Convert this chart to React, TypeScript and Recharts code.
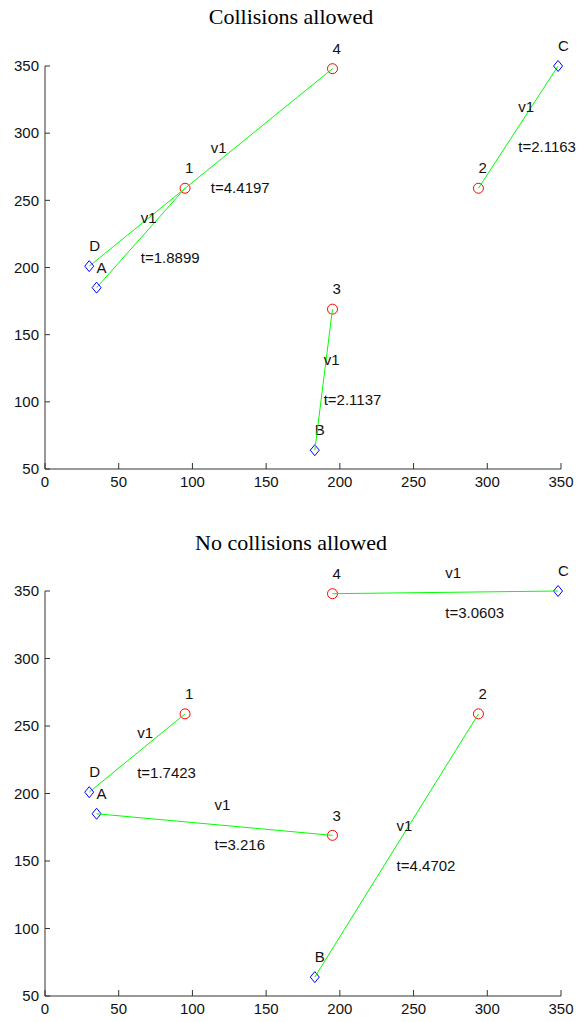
import React from 'react'
import { ScatterChart, Scatter, XAxis, YAxis } from 'recharts'

type Pt = { name: string; x: number; y: number }
type Pair = [string, string, number]

// task positions (red circles)
const targets: Pt[] = [
  { name: '1', x: 95, y: 259 },
  { name: '2', x: 294, y: 259 },
  { name: '3', x: 195, y: 169 },
  { name: '4', x: 195, y: 348 },
]

// agent positions (blue diamonds)
const agents: Pt[] = [
  { name: 'A', x: 35, y: 185 },
  { name: 'B', x: 183, y: 64 },
  { name: 'C', x: 348, y: 350 },
  { name: 'D', x: 30, y: 201 },
]

// agent -> task, travel time
const allowedPairs: Pair[] = [
  ['D', '4', 4.4197],
  ['A', '1', 1.8899],
  ['B', '3', 2.1137],
  ['C', '2', 2.1163],
]

const noCollisionPairs: Pair[] = [
  ['C', '4', 3.0603],
  ['D', '1', 1.7423],
  ['A', '3', 3.216],
  ['B', '2', 4.4702],
]

const xTicks = [0, 50, 100, 150, 200, 250, 300, 350]
const yTicks = [50, 100, 150, 200, 250, 300, 350]

const GREEN = '#00ff00'
const RED = '#ff0000'
const BLUE = '#0000ff'
const AXIS = '#333'
const FONT = '"Liberation Sans", Arial, sans-serif'

const find = (list: Pt[], n: string) => list.find((p) => p.name === n)!

function XTick(props: any) {
  const { x, y, payload } = props
  return (
    <g>
      <line x1={x} x2={x} y1={y - 7} y2={y - 13} stroke={AXIS} />
      <text x={x} y={y} dy="0.71em" textAnchor="middle" fontSize={15} fill="#111" fontFamily={FONT}>
        {payload.value}
      </text>
    </g>
  )
}

function YTick(props: any) {
  const { x, y, payload } = props
  return (
    <g>
      <line x1={x + 6} x2={x + 11} y1={y} y2={y} stroke={AXIS} />
      <text x={x} y={y} dy="0.35em" textAnchor="end" fontSize={15} fill="#111" fontFamily={FONT}>
        {payload.value}
      </text>
    </g>
  )
}

function Circle(props: any) {
  const { cx, cy, payload } = props
  return (
    <g>
      <circle cx={cx} cy={cy} r={5} fill="none" stroke={RED} />
      <text x={cx} y={cy - 20} dy="0.35em" fontSize={15} fontFamily={FONT} fill="#111">
        {payload.name}
      </text>
    </g>
  )
}

function Diamond(props: any) {
  const { cx, cy, payload } = props
  return (
    <g>
      <polygon
        points={`${cx},${cy - 5.5} ${cx + 4.5},${cy} ${cx},${cy + 5.5} ${cx - 4.5},${cy}`}
        fill="none"
        stroke={BLUE}
      />
      <text x={cx} y={cy - 20} dy="0.35em" fontSize={15} fontFamily={FONT} fill="#111">
        {payload.name}
      </text>
    </g>
  )
}

function MidLabel(props: any) {
  const { cx, cy, payload } = props
  return (
    <g fontSize={15} fontFamily={FONT} fill="#111">
      <text x={cx} y={cy - 20} dy="0.35em">v1</text>
      <text x={cx} y={cy + 20} dy="0.35em">t={payload.t}</text>
    </g>
  )
}

function Plot({ pairs, top, height, marginTop, xAxisHeight, marginBottom }: any) {
  const segs = pairs.map(([a, t]: Pair) => [find(agents, a), find(targets, t)])
  const mids = pairs.map(([a, t, time]: Pair) => {
    const p = find(agents, a)
    const q = find(targets, t)
    return { x: (p.x + q.x) / 2, y: (p.y + q.y) / 2, t: time }
  })
  return (
    <div style={{ position: 'absolute', left: 0, top }}>
      <ScatterChart
        width={578}
        height={height}
        margin={{ top: marginTop, right: 17, bottom: marginBottom, left: 0 }}
      >
        <XAxis
          type="number"
          dataKey="x"
          domain={[0, 350]}
          ticks={xTicks}
          interval={0}
          height={xAxisHeight}
          tickSize={0}
          tickMargin={7}
          tick={<XTick />}
          axisLine={{ stroke: AXIS }}
        />
        <YAxis
          type="number"
          dataKey="y"
          domain={[50, 350]}
          ticks={yTicks}
          interval={0}
          width={45}
          tickSize={0}
          tickMargin={6}
          tick={<YTick />}
          axisLine={{ stroke: AXIS }}
        />
        <Scatter data={targets} shape={<Circle />} isAnimationActive={false} />
        <Scatter data={agents} shape={<Diamond />} isAnimationActive={false} />
        {segs.map((d: Pt[], i: number) => (
          <Scatter
            key={i}
            data={d}
            line={{ stroke: GREEN, strokeWidth: 1 }}
            shape={() => <g />}
            isAnimationActive={false}
          />
        ))}
        <Scatter data={mids} shape={<MidLabel />} isAnimationActive={false} />
      </ScatterChart>
    </div>
  )
}

const titleStyle: React.CSSProperties = {
  position: 'absolute',
  left: 0,
  width: 582,
  textAlign: 'center',
  fontFamily: '"Liberation Serif", "Times New Roman", serif',
  fontSize: 22,
  lineHeight: '22px',
  color: '#000',
}

export default function App() {
  return (
    <div style={{ position: 'absolute', left: 0, top: 0, width: 578, height: 1022, background: '#fff' }}>
      <Plot pairs={allowedPairs} top={0} height={511} marginTop={66} xAxisHeight={30} marginBottom={12} />
      <Plot pairs={noCollisionPairs} top={511} height={511} marginTop={80} xAxisHeight={26} marginBottom={0} />
      <div style={{ ...titleStyle, top: 6 }}>Collisions allowed</div>
      <div style={{ ...titleStyle, top: 532 }}>No collisions allowed</div>
    </div>
  )
}
